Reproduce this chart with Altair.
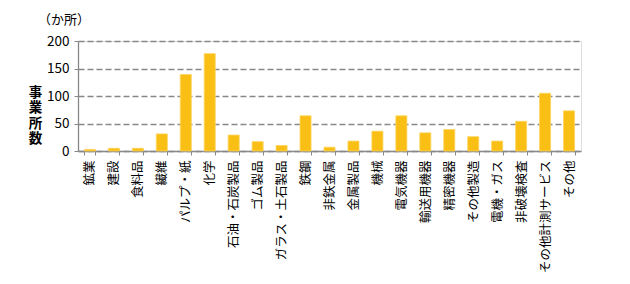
import altair as alt
import pandas as pd

categories = ["鉱業", "建設", "食料品", "繊維", "パルプ・紙", "化学", "石油・石炭製品",
              "ゴム製品", "ガラス・土石製品", "鉄鋼", "非鉄金属", "金属製品", "機械",
              "電気機器", "輸送用機器", "精密機器", "その他製造", "電機・ガス",
              "非破壊検査", "その他計測サービス", "その他"]
counts = [3, 5, 5, 31, 139, 177, 29, 17, 10, 64, 7, 18, 36, 64, 33, 39, 26, 18, 54, 105, 73]

df = pd.DataFrame({"cat": categories, "n": counts})

FONT = "Noto Sans CJK JP"

chart = alt.Chart(df).mark_bar(
    color="#FABF14", stroke="#FDD35A", strokeWidth=0.8
).encode(
    x=alt.X("cat:N", sort=categories, title=None,
            scale=alt.Scale(paddingInner=0.54, paddingOuter=0.27),
            axis=alt.Axis(labelAngle=-90, labelAlign="right", labelBaseline="middle",
                          labelFont=FONT, labelFontSize=12.5, labelColor="#000",
                          labelPadding=5, tickBand="extent", tickSize=4,
                          tickColor="#888", domainColor="#888", domainWidth=1.3,
                          labelOverlap=False)),
    y=alt.Y("n:Q", scale=alt.Scale(domain=[0, 200], nice=False),
            axis=alt.Axis(values=[0, 50, 100, 150, 200], title=["事", "業", "所", "数"],
                          titleAngle=0, titleAlign="center", titleBaseline="top",
                          titleX=-43, titleY=44, titleLineHeight=15.5,
                          titleFont=FONT, titleFontSize=13.5, titleFontWeight="bold",
                          titleColor="#000",
                          labelFont=FONT, labelFontSize=13.5, labelColor="#000",
                          labelPadding=5, tickSize=4, tickColor="#888",
                          domainColor="#888", domainWidth=1.3,
                          grid=True, gridDash=[6, 3], gridColor="#888", gridWidth=1.3)),
).properties(
    width=503, height=110,
    padding={"left": 78, "top": 41, "right": 49, "bottom": 133},
    autosize=alt.AutoSizeParams(type="none"),
    title=alt.TitleParams("（か所）", anchor="start", frame="group", dx=-40, offset=7,
                          font=FONT, fontSize=13, fontWeight="normal", color="#000"),
).configure_view(stroke="#888", strokeWidth=1.3).configure(background="white")

chart.save("out.html", embed_options={"renderer": "svg", "actions": False})
